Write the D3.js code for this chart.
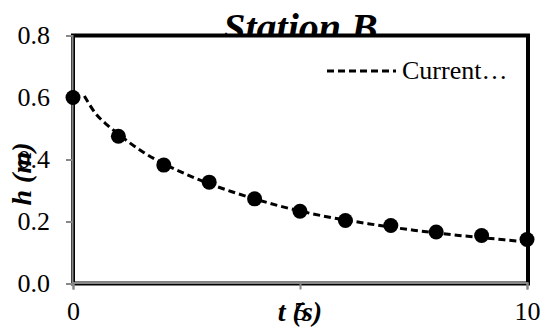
<!DOCTYPE html>
<html>
<head>
<meta charset="utf-8">
<script src="https://cdn.jsdelivr.net/npm/d3@7"></script>
<style>
  body { margin: 0; background: #fff; }
  svg { display: block; }
  svg text { font-family: "Liberation Serif", "Times New Roman", Times, "DejaVu Serif", serif; }
</style>
</head>
<body>
<div id="chart"></div>
<script>
// measured points (black dots)
const timeObs = [0, 1, 2, 3, 4, 5, 6, 7, 8, 9, 10];
const hObs = [0.600, 0.475, 0.382, 0.327, 0.273, 0.233, 0.203, 0.187, 0.166, 0.155, 0.142];

// "Current..." dashed curve
const timeCur = [0.25, 0.5, 0.75, 1, 1.5, 2, 2.5, 3, 3.5, 4, 4.5, 5, 5.5, 6, 6.5, 7, 7.5, 8, 8.5, 9, 9.5, 10];
const hCur = [0.605, 0.548, 0.512, 0.482, 0.428, 0.386, 0.352, 0.322, 0.296, 0.273, 0.252, 0.234, 0.218, 0.205, 0.193, 0.182, 0.172, 0.163, 0.155, 0.148, 0.141, 0.134];

const xTicks = [0, 5, 10];
const yTicks = [0, 0.2, 0.4, 0.6, 0.8];

const width = 542, height = 330;
const plotLeft = 73, plotRight = 528, plotTop = 35.5, plotBottom = 283.5;
const serif = '"Liberation Serif", "Times New Roman", Times, "DejaVu Serif", serif';

const svg = d3.select("#chart").append("svg")
  .attr("width", width)
  .attr("height", height);

const x = d3.scaleLinear().domain([0, 10]).range([plotLeft, 527]);
const y = d3.scaleLinear().domain([0, 0.8]).range([plotBottom, plotTop]);

// title goes under the plot area, its bottom gets covered
svg.append("text")
  .attr("x", (plotLeft + plotRight) / 2)
  .attr("y", 41)
  .attr("text-anchor", "middle")
  .style("font-family", serif)
  .style("font-size", "40px")
  .style("font-weight", "bold")
  .style("font-style", "italic")
  .text("Station B");

svg.append("rect")
  .attr("x", plotLeft)
  .attr("y", plotTop)
  .attr("width", plotRight - plotLeft)
  .attr("height", plotBottom - plotTop)
  .attr("fill", "#fff")
  .attr("stroke", "#000")
  .attr("stroke-width", 4);

// axes (gray lines + ticks)
const yAxis = svg.append("g")
  .attr("transform", "translate(" + (plotLeft - 1) + ",0)")
  .attr("font-family", serif)
  .call(d3.axisLeft(y).tickValues(yTicks).tickFormat(d3.format(".1f")).tickSize(6).tickPadding(16));
yAxis.attr("font-family", serif);
yAxis.select(".domain").attr("stroke", "#888").attr("stroke-width", 2);
yAxis.selectAll(".tick line").attr("stroke", "#888").attr("stroke-width", 2);
yAxis.selectAll(".tick text")
  .attr("fill", "#000")
  .style("font-family", serif)
  .style("font-size", "26px");

const xAxis = svg.append("g")
  .attr("transform", "translate(0," + (plotBottom - 1) + ")")
  .call(d3.axisBottom(x).tickValues(xTicks).tickFormat(d3.format("d")).tickSize(7).tickPadding(12));
xAxis.attr("font-family", serif);
xAxis.select(".domain").attr("stroke", "#888").attr("stroke-width", 2);
xAxis.selectAll(".tick line").attr("stroke", "#888").attr("stroke-width", 2);
xAxis.selectAll(".tick text")
  .attr("fill", "#000")
  .style("font-family", serif)
  .style("font-size", "26px");

// axis titles
svg.append("text")
  .attr("transform", "translate(31,174) rotate(-90)")
  .attr("text-anchor", "middle")
  .style("font-family", serif)
  .style("font-size", "28px")
  .style("font-weight", "bold")
  .style("font-style", "italic")
  .text("h (m)");

svg.append("text")
  .attr("x", x(5))
  .attr("y", 321)
  .attr("text-anchor", "middle")
  .style("font-family", serif)
  .style("font-size", "28px")
  .style("font-weight", "bold")
  .style("font-style", "italic")
  .text("t (s)");

// dashed curve
const line = d3.line()
  .x((d, i) => x(timeCur[i]))
  .y(d => y(d))
  .curve(d3.curveMonotoneX);

svg.append("path")
  .datum(hCur)
  .attr("d", line)
  .attr("fill", "none")
  .attr("stroke", "#000")
  .attr("stroke-width", 3)
  .attr("stroke-dasharray", "7,4");

// points
svg.selectAll("circle.obs")
  .data(hObs)
  .enter()
  .append("circle")
  .attr("class", "obs")
  .attr("cx", (d, i) => x(timeObs[i]))
  .attr("cy", d => y(d))
  .attr("r", 7.5)
  .attr("fill", "#000");

// legend
svg.append("line")
  .attr("x1", 327).attr("x2", 396)
  .attr("y1", 71).attr("y2", 71)
  .attr("stroke", "#000")
  .attr("stroke-width", 3)
  .attr("stroke-dasharray", "7,4");

svg.append("text")
  .attr("x", 402)
  .attr("y", 79)
  .style("font-family", serif)
  .style("font-size", "26px")
  .text("Current…");
</script>
</body>
</html>
